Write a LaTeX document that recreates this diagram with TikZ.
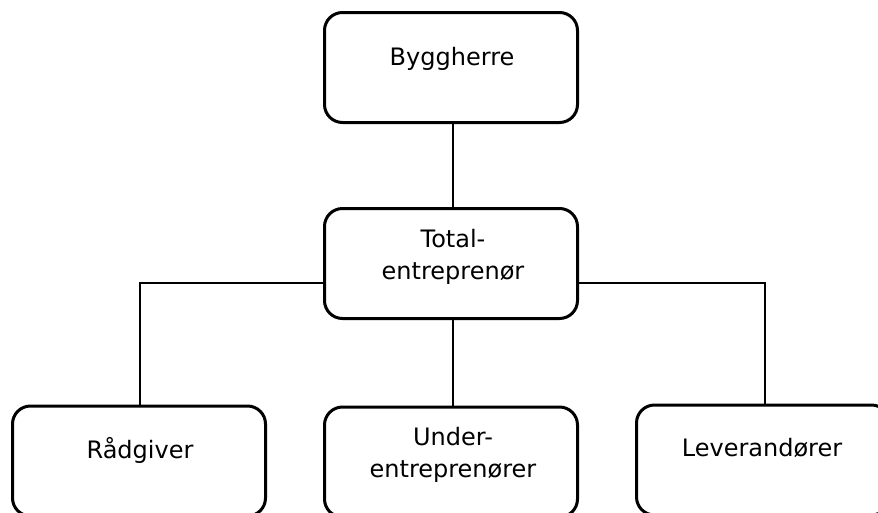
\documentclass[tikz,border=0pt]{standalone}
\usepackage{fontspec}
\setmainfont{DejaVu Sans}
\begin{document}
\begin{tikzpicture}[x=1pt,y=-1pt,
  orgbox/.style={draw=black, line width=3pt, rounded corners=18pt,
    minimum width=253pt, minimum height=110pt, inner sep=0pt},
  orgtext/.style={font=\fontsize{24}{32}\selectfont, align=center, inner sep=0pt},
  link/.style={draw=black, line width=2.3pt}]
  \useasboundingbox (0,0) rectangle (878,512);
  \clip (0,0) rectangle (878,512);

  % boxes
  \node[orgbox] (bh) at (451,67.5) {};
  \node[orgbox] (te) at (451,263.5) {};
  \node[orgbox] (rg) at (139,461) {};
  \node[orgbox] (ue) at (451,462) {};
  \node[orgbox] (lv) at (763,460) {};

  % labels (base anchor sits on the last line)
  \node[orgtext, anchor=base] (bhl) at (452,65.5) {Byggherre};
  \node[orgtext, anchor=base] (tel) at (453,279) {Total-\\entreprenør};
  \node[orgtext, anchor=base] (rgl) at (140,458) {Rådgiver};
  \node[orgtext, anchor=base] (uel) at (453,477) {Under-\\entreprenører};
  \node[orgtext, anchor=base] (lvl) at (762,456) {Leverandører};

  % connectors
  \coordinate (lj) at (140,283);
  \coordinate (rj) at (765,283);
  \draw[link] ([xshift=2pt]bh.south) -- ([xshift=2pt]te.north);
  \draw[link] ([xshift=2pt]te.south) -- ([xshift=2pt]ue.north);
  \draw[link] (te.west |- lj) -- (lj) -- (rg.north -| lj);
  \draw[link] (te.east |- rj) -- (rj) -- (lv.north -| rj);
\end{tikzpicture}
\end{document}
